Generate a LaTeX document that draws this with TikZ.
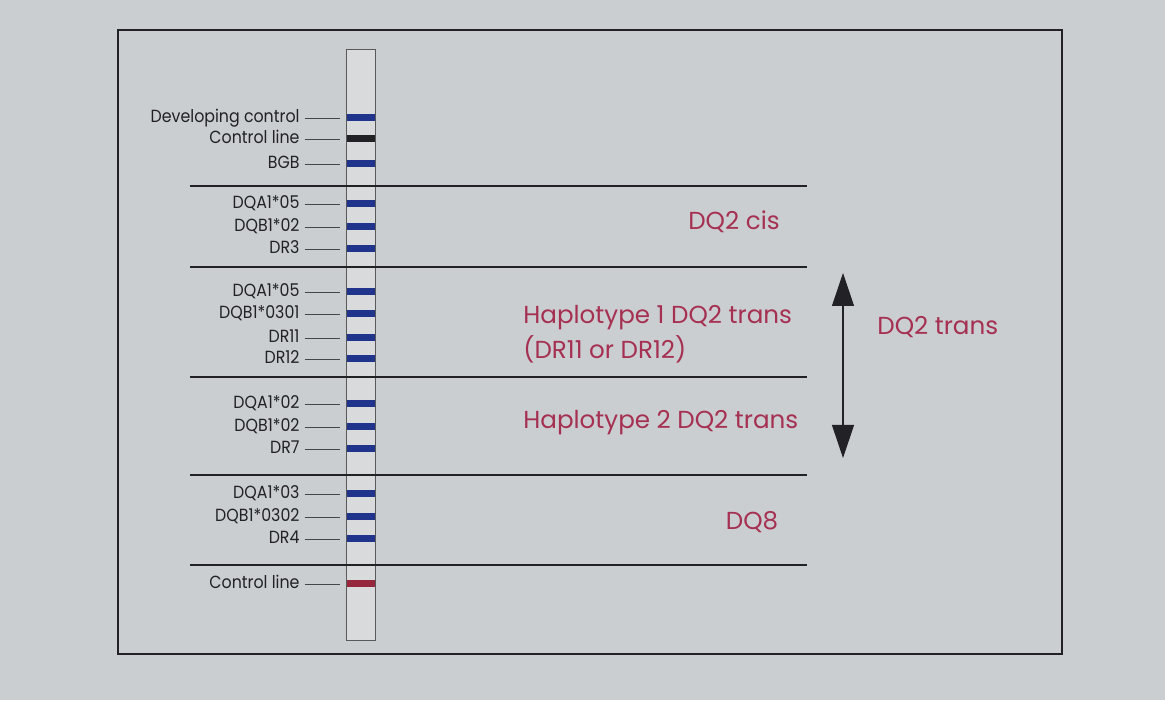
\documentclass[tikz,border=0pt]{standalone}
\usepackage{fontspec}
\setmainfont{Poppins}
\newfontfamily\stripfont{Poppins}[FakeStretch=0.9]
\usetikzlibrary{arrows.meta, positioning}

\definecolor{paper}{RGB}{203,206,208}
\definecolor{bandblue}{RGB}{32,52,140}
\definecolor{bandred}{RGB}{150,40,62}
\definecolor{hapred}{RGB}{165,48,82}
\definecolor{ink}{RGB}{34,34,38}

\begin{document}
\begin{tikzpicture}[
    band/.style={fill=bandblue, minimum width=0.56cm, minimum height=0.14cm, inner sep=0pt},
    lbl/.style={text=ink, font=\stripfont\fontsize{10}{12}\selectfont, inner sep=1pt, text height=0.72em, text depth=0.2em},
    leader/.style={gray!55!black, line width=0.4pt, shorten <=0.06cm, shorten >=0.14cm},
    sep/.style={ink, line width=1.6pt},
    hap/.style={text=hapred, font=\fontsize{14}{20}\selectfont, inner sep=0pt},
    dbl/.style={{Triangle[length=0.66cm, width=0.44cm]}-{Triangle[length=0.66cm, width=0.44cm]}, ink, line width=0.6pt}
]
\useasboundingbox (0,0) rectangle (23.3,14);
\fill[paper] (0,0) rectangle (23.3,14);

% ---- Outer frame ----
\draw[ink, line width=1.1pt] (2.36,0.92) rectangle (21.24,13.4);

% ---- Strip ----
\node[draw=gray!70!black, line width=0.5pt, fill=paper!75!white,
      minimum width=0.58cm, minimum height=11.82cm, inner sep=0pt] (strip) at (7.21,7.11) {};

% ---- Controls ----
\node[band]                (b-dev)   at (7.22,11.64) {};
\node[band, fill=ink]      (b-ctrl)  at (7.22,11.22) {};
\node[band]                (b-bgb)   at (7.22,10.72) {};
\node[lbl, left=0.9cm of b-dev]  (l-dev)  {Developing control};
\node[lbl, left=0.9cm of b-ctrl] (l-ctrl) {Control line};
\node[lbl, left=0.9cm of b-bgb]  (l-bgb)  {BGB};
\draw[leader] (l-dev) -- (b-dev);
\draw[leader] (l-ctrl) -- (b-ctrl);
\draw[leader] (l-bgb) -- (b-bgb);

% ---- DQ2 cis ----
\node[band] (b-dqa05a) at (7.22,9.92) {};
\node[band] (b-dqb02a) at (7.22,9.46) {};
\node[band] (b-dr3)    at (7.22,9.02) {};
\node[lbl, left=0.9cm of b-dqa05a] (l-dqa05a) {DQA1*05};
\node[lbl, left=0.9cm of b-dqb02a] (l-dqb02a) {DQB1*02};
\node[lbl, left=0.9cm of b-dr3]    (l-dr3)    {DR3};
\draw[leader] (l-dqa05a) -- (b-dqa05a);
\draw[leader] (l-dqb02a) -- (b-dqb02a);
\draw[leader] (l-dr3) -- (b-dr3);

% ---- Haplotype 1 ----
\node[band] (b-dqa05b)  at (7.22,8.16) {};
\node[band] (b-dqb0301) at (7.22,7.72) {};
\node[band] (b-dr11)    at (7.22,7.24) {};
\node[band] (b-dr12)    at (7.22,6.82) {};
\node[lbl, left=0.9cm of b-dqa05b]  (l-dqa05b)  {DQA1*05};
\node[lbl, left=0.9cm of b-dqb0301] (l-dqb0301) {DQB1*0301};
\node[lbl, left=0.9cm of b-dr11]    (l-dr11)    {DR11};
\node[lbl, left=0.9cm of b-dr12]    (l-dr12)    {DR12};
\draw[leader] (l-dqa05b) -- (b-dqa05b);
\draw[leader] (l-dqb0301) -- (b-dqb0301);
\draw[leader] (l-dr11) -- (b-dr11);
\draw[leader] (l-dr12) -- (b-dr12);

% ---- Haplotype 2 ----
\node[band] (b-dqa02)  at (7.22,5.92) {};
\node[band] (b-dqb02b) at (7.22,5.46) {};
\node[band] (b-dr7)    at (7.22,5.02) {};
\node[lbl, left=0.9cm of b-dqa02]  (l-dqa02)  {DQA1*02};
\node[lbl, left=0.9cm of b-dqb02b] (l-dqb02b) {DQB1*02};
\node[lbl, left=0.9cm of b-dr7]    (l-dr7)    {DR7};
\draw[leader] (l-dqa02) -- (b-dqa02);
\draw[leader] (l-dqb02b) -- (b-dqb02b);
\draw[leader] (l-dr7) -- (b-dr7);

% ---- DQ8 ----
\node[band] (b-dqa03)  at (7.22,4.12) {};
\node[band] (b-dqb0302) at (7.22,3.66) {};
\node[band] (b-dr4)    at (7.22,3.22) {};
\node[lbl, left=0.9cm of b-dqa03]   (l-dqa03)   {DQA1*03};
\node[lbl, left=0.9cm of b-dqb0302] (l-dqb0302) {DQB1*0302};
\node[lbl, left=0.9cm of b-dr4]     (l-dr4)     {DR4};
\draw[leader] (l-dqa03) -- (b-dqa03);
\draw[leader] (l-dqb0302) -- (b-dqb0302);
\draw[leader] (l-dr4) -- (b-dr4);

% ---- Bottom control ----
\node[band, fill=bandred] (b-ctrl2) at (7.22,2.32) {};
\node[lbl, left=0.9cm of b-ctrl2] (l-ctrl2) {Control line};
\draw[leader] (l-ctrl2) -- (b-ctrl2);

% ---- Separators ----
\draw[sep] (3.8,10.28) -- (16.14,10.28);
\draw[sep] (3.8,8.66) -- (16.14,8.66);
\draw[sep] (3.8,6.46) -- (16.14,6.46);
\draw[sep] (3.8,4.5) -- (16.14,4.5);
\draw[sep] (3.8,2.7) -- (16.14,2.7);

% ---- Group names ----
\node[hap] (g-cis)  at (14.68,9.56) {DQ2 cis};
\node[hap, anchor=west, align=left] (g-hap1) at (10.46,7.31) {Haplotype 1 DQ2 trans\\(DR11 or DR12)};
\node[hap, anchor=west] (g-hap2) at (10.46,5.54) {Haplotype 2 DQ2 trans};
\node[hap] (g-dq8)  at (15.04,3.56) {DQ8};
\node[hap, anchor=west] (g-trans) at (17.54,7.46) {DQ2 trans};

% ---- DQ2 trans span ----
\coordinate (t-top) at (16.86,8.54);
\coordinate (t-bot) at (16.86,4.84);
\draw[dbl] (t-top) -- (t-bot);

\end{tikzpicture}
\end{document}
